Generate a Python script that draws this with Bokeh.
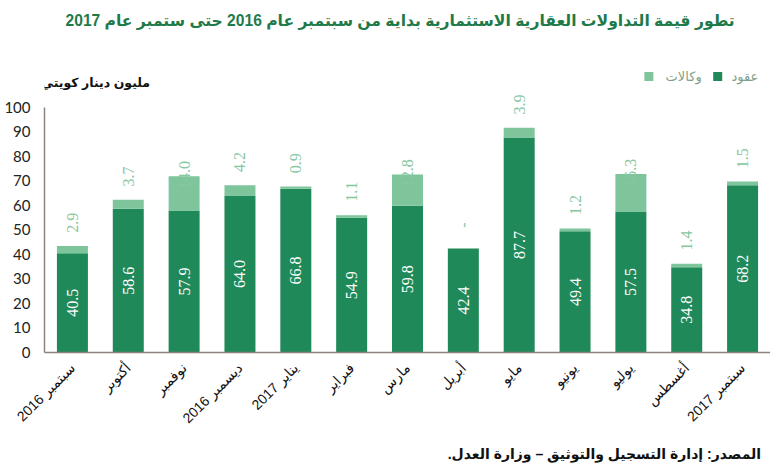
import math
from bokeh.plotting import figure
from bokeh.layouts import column
from bokeh.models import (FactorRange, Range1d, FixedTicker, ColumnDataSource, LabelSet)
from bokeh.core.properties import value
from bokeh.embed import file_html
from bokeh.resources import INLINE

months = ["سبتمبر 2016", "أكتوبر", "نوفمبر", "ديسمبر 2016", "يناير 2017", "فبراير",
          "مارس", "أبريل", "مايو", "يونيو", "يوليو", "أغسطس", "سبتمبر 2017"]
contracts = [40.5, 58.6, 57.9, 64.0, 66.8, 54.9, 59.8, 42.4, 87.7, 49.4, 57.5, 34.8, 68.2]
agencies = [2.9, 3.7, 14.0, 4.2, 0.9, 1.1, 12.8, 0.0, 3.9, 1.2, 15.3, 1.4, 1.5]
y_ticks = [0, 10, 20, 30, 40, 50, 60, 70, 80, 90, 100]

title_text = "تطور قيمة التداولات العقارية الاستثمارية بداية من سبتمبر عام 2016 حتى ستمبر عام 2017"
unit_text = "مليون دينار كويتي"
legend_names = ["عقود", "وكالات"]
source_text = "المصدر: إدارة التسجيل والتوثيق – وزارة العدل.\u200f"

DARK = "#20895a"
LIGHT = "#7fc59c"
LIGHT_TXT = "#86c7a0"
AXIS = "#8c817c"
LEG_TXT = "#7f9f8c"
AR_FONT = "Liberation Sans, DejaVu Sans"
NUM_FONT = "Lato"
W = 770


def blank(height):
    f = figure(width=W, height=height, x_range=Range1d(0, W), y_range=Range1d(height, 0),
               x_axis_type=None, y_axis_type=None, output_backend="svg",
               toolbar_location=None, min_border=0)
    f.outline_line_color = None
    f.xgrid.grid_line_color = None
    f.ygrid.grid_line_color = None
    return f


# ---- header: title, unit, legend ----
top = blank(92)
top.text(x=[732], y=[20], text=[title_text], text_align="right", text_baseline="middle",
         text_font=value(AR_FONT), text_font_style="bold", text_font_size="15.6px",
         text_color="#1f7a4a")
top.text(x=[112], y=[82], text=[unit_text], text_align="right", text_baseline="middle",
         text_font=value(AR_FONT), text_font_style="bold", text_font_size="12.5px",
         text_color="#111111")
top.scatter(x=[714, 641], y=[76, 76], marker="square", size=9, color=[DARK, LIGHT],
            line_color=None)
top.text(x=[757, 697], y=[76, 76], text=legend_names, text_align="right",
         text_baseline="middle", text_font=value(AR_FONT), text_font_size="13px",
         text_color=LEG_TXT)

# ---- main chart ----
p = figure(width=W, height=348, x_range=FactorRange(*months), y_range=Range1d(0, 106),
           output_backend="svg", toolbar_location=None,
           min_border_left=44, min_border_right=0, min_border_top=0, min_border_bottom=88)
p.outline_line_color = None
p.xgrid.grid_line_color = None
p.ygrid.grid_line_color = None

src = ColumnDataSource(dict(
    m=months,
    contracts=contracts,
    agencies=agencies,
    c_mid=[c / 2 for c in contracts],
    a_pos=[c + a + (0.5 if a > 10 else 9.5) for c, a in zip(contracts, agencies)],
    c_txt=[f"{c:.1f}" for c in contracts],
    a_txt=[f"{a:.1f}" if a > 0 else "-" for a in agencies],
))

p.vbar_stack(["contracts", "agencies"], x="m", width=0.555, color=[DARK, LIGHT],
             line_color=None, source=src)

p.add_layout(LabelSet(x="m", y="c_mid", text="c_txt", source=src, angle=math.pi / 2,
                      text_align="center", text_baseline="middle", text_color="white",
                      text_font_size="16px", text_font=NUM_FONT))
p.add_layout(LabelSet(x="m", y="a_pos", text="a_txt", source=src, angle=math.pi / 2,
                      text_align="center", text_baseline="middle", text_color=LIGHT_TXT,
                      text_font_size="16px", text_font=NUM_FONT))

yax = p.yaxis[0]
yax.ticker = FixedTicker(ticks=y_ticks)
yax.bounds = (0, 100)
yax.major_tick_line_color = None
yax.minor_tick_line_color = None
yax.axis_line_color = AXIS
yax.axis_line_width = 1.5
yax.major_label_text_font = NUM_FONT
yax.major_label_text_font_size = "15px"
yax.major_label_text_color = "#222222"
yax.major_label_standoff = 8

xax = p.xaxis[0]
xax.major_tick_line_color = None
xax.minor_tick_line_color = None
xax.axis_line_color = AXIS
xax.axis_line_width = 1.5
xax.major_label_orientation = math.pi / 4
xax.major_label_text_font = AR_FONT
xax.major_label_text_font_size = "14px"
xax.major_label_text_color = "#111111"
xax.major_label_standoff = 7

# ---- footer: source ----
bot = blank(30)
bot.text(x=[760], y=[13], text=[source_text], text_align="right", text_baseline="middle",
         text_font=value(AR_FONT), text_font_style="bold", text_font_size="14px",
         text_color="#111111")

layout = column(top, p, bot, spacing=0)
open("out.html", "w").write(file_html(layout, INLINE))
